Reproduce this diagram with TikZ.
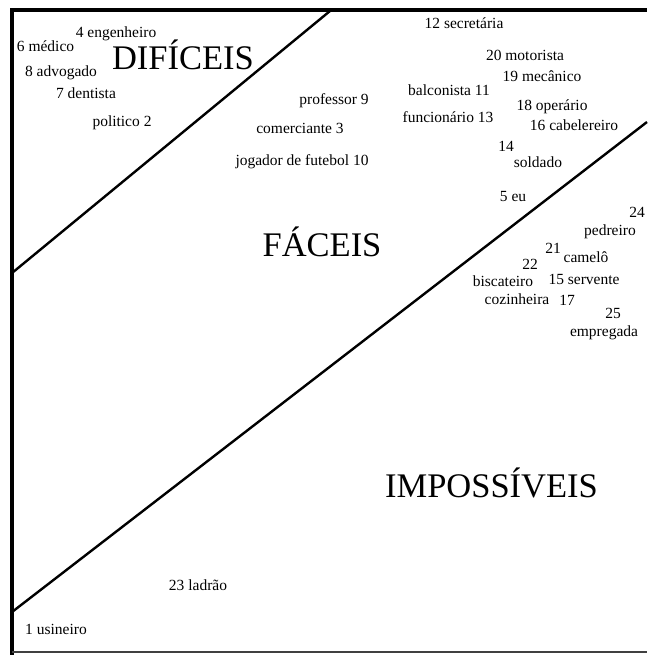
\documentclass[tikz,border=0pt]{standalone}
\usepackage{fontspec}
\setmainfont{Liberation Serif}
\begin{document}
\begin{tikzpicture}[x=1pt,y=-1pt,
  lbl/.style={inner sep=0pt, text height=10.5pt, text depth=0pt,
    font=\fontsize{15.5}{18}\selectfont},
  zone/.style={inner sep=0pt, text height=22.8pt, text depth=0pt,
    font=\fontsize{34.5}{40}\selectfont},
  frame/.style={line width=4pt},
  divider/.style={line width=2.4pt}]
\useasboundingbox (0,0) rectangle (647,655);
\fill[white] (0,0) rectangle (647,655);

% frame corners and the two dividing lines
\coordinate (tl) at (12,8.5);
\coordinate (tr) at (647,10.5);
\coordinate (bl) at (12,655);
\coordinate (br) at (647,652);
\coordinate (d1a) at (12,273);
\coordinate (d1b) at (330,11);
\coordinate (d2a) at (12,612);
\coordinate (d2b) at (647,122);

\draw[frame] (tl) -- (bl);
\draw[frame] (10,10.5) -- (tr);
\draw[line width=2pt, black!75] (12,652) -- (br);
\draw[divider] (d1a) -- (d1b);
\draw[divider] (d2a) -- (d2b);

% zone titles
\node[zone] (dif) at (183,58.6) {DIFÍCEIS};
\node[zone] (fac) at (322,244.6) {FÁCEIS};
\node[zone] (imp) at (491.5,486) {IMPOSSÍVEIS};

% difficult occupations
\node[lbl] (n4) at (116,32) {4 engenheiro};
\node[lbl] (n6) at (45.5,46) {6 médico};
\node[lbl] (n8) at (61,71) {8 advogado};
\node[lbl] (n7) at (86,93) {7 dentista};
\node[lbl] (n2) at (122,121) {politico 2};

% easy occupations
\node[lbl] (n12) at (464,23) {12 secretária};
\node[lbl] (n20) at (525,55) {20 motorista};
\node[lbl] (n19) at (542,76) {19 mecânico};
\node[lbl] (n11) at (449,90) {balconista 11};
\node[lbl] (n9) at (334,99) {professor 9};
\node[lbl] (n18) at (552,105) {18 operário};
\node[lbl] (n13) at (448,117) {funcionário 13};
\node[lbl] (n16) at (574,125) {16 cabelereiro};
\node[lbl] (n3) at (300,128) {comerciante 3};
\node[lbl] (n14) at (506,146) {14};
\node[lbl] (sold) at (538,162) {soldado};
\node[lbl] (n10) at (302,160) {jogador de futebol 10};
\node[lbl] (n5) at (513,196) {5 eu};

% impossible occupations
\node[lbl] (n24) at (637,212) {24};
\node[lbl] (pedr) at (610,230) {pedreiro};
\node[lbl] (n21) at (553,248) {21};
\node[lbl] (cam) at (586,257) {camelô};
\node[lbl] (n22) at (530,264) {22};
\node[lbl] (bisc) at (503,281) {biscateiro};
\node[lbl] (n15) at (584,279) {15 servente};
\node[lbl] (coz) at (517,299) {cozinheira};
\node[lbl] (n17) at (567,300) {17};
\node[lbl] (n25) at (613,313) {25};
\node[lbl] (emp) at (604,331) {empregada};
\node[lbl] (n23) at (198,585) {23 ladrão};
\node[lbl] (n1) at (56,629) {1 usineiro};
\end{tikzpicture}
\end{document}
